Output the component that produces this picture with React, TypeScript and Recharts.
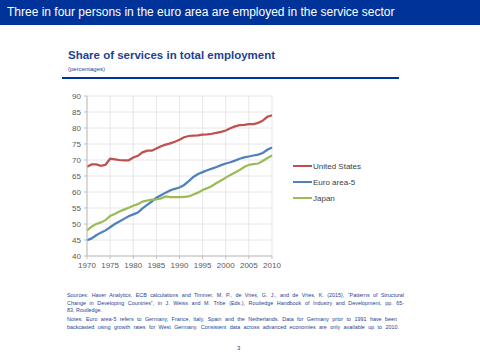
import { CartesianGrid, Line, LineChart, XAxis, YAxis } from "recharts";

const years = [
  1970, 1971, 1972, 1973, 1974, 1975, 1976, 1977, 1978, 1979,
  1980, 1981, 1982, 1983, 1984, 1985, 1986, 1987, 1988, 1989,
  1990, 1991, 1992, 1993, 1994, 1995, 1996, 1997, 1998, 1999,
  2000, 2001, 2002, 2003, 2004, 2005, 2006, 2007, 2008, 2009, 2010,
];

const unitedStates = [
  67.9, 68.6, 68.6, 68.2, 68.5, 70.4, 70.2, 70.0, 69.9, 69.9,
  70.8, 71.3, 72.4, 72.9, 72.9, 73.6, 74.3, 74.8, 75.2, 75.7,
  76.3, 77.1, 77.5, 77.6, 77.7, 77.9, 78.0, 78.2, 78.5, 78.8,
  79.2, 79.9, 80.5, 80.9, 81.0, 81.2, 81.2, 81.6, 82.3, 83.5, 84.0,
];

const euroArea5 = [
  44.9, 45.5, 46.5, 47.3, 48.0, 49.0, 50.0, 50.8, 51.6, 52.4,
  53.0, 53.6, 54.9, 56.0, 57.0, 58.2, 59.0, 59.8, 60.5, 61.0,
  61.4, 62.2, 63.4, 64.7, 65.6, 66.2, 66.8, 67.3, 67.8, 68.4,
  68.9, 69.3, 69.8, 70.4, 70.8, 71.1, 71.4, 71.7, 72.2, 73.2, 73.9,
];

const japan = [
  48.0, 49.2, 50.0, 50.5, 51.2, 52.5, 53.1, 53.9, 54.5, 55.1,
  55.7, 56.2, 57.0, 57.3, 57.6, 57.7, 58.0, 58.6, 58.4, 58.4,
  58.4, 58.5, 58.6, 59.2, 59.8, 60.6, 61.2, 61.9, 62.8, 63.6,
  64.5, 65.3, 66.1, 66.9, 67.8, 68.5, 68.7, 68.9, 69.7, 70.6, 71.4,
];

const xTicks = [1970, 1975, 1980, 1985, 1990, 1995, 2000, 2005, 2010];
const yTicks = [40, 45, 50, 55, 60, 65, 70, 75, 80, 85, 90];

const series = [
  { key: "us", name: "United States", color: "#c0504d" },
  { key: "euro", name: "Euro area-5", color: "#4f81bd" },
  { key: "japan", name: "Japan", color: "#9bbb59" },
];

const data = years.map((year, i) => ({
  year,
  us: unitedStates[i],
  euro: euroArea5[i],
  japan: japan[i],
}));

const blue = "#1f3f94";
const axisFont = { fontSize: 8, fill: "#595959", fontFamily: "Liberation Sans, Arial, sans-serif" };

const footLine = (text: string, top: number, justify: boolean, width = 337) => (
  <div
    style={{
      position: "absolute",
      left: 67,
      top,
      width,
      fontSize: 5.4,
      lineHeight: "7px",
      color: blue,
      whiteSpace: "nowrap",
      textAlign: "justify",
      textAlignLast: justify ? "justify" : "left",
      overflow: "hidden",
    }}
  >
    {text}
  </div>
);

export default function App() {
  return (
    <div
      style={{
        position: "absolute",
        left: 0,
        top: 0,
        width: 480,
        height: 360,
        background: "#fff",
        fontFamily: "Liberation Sans, Arial, sans-serif",
        overflow: "hidden",
      }}
    >
      <div
        style={{
          position: "absolute",
          left: 0,
          top: 0,
          width: 480,
          height: 25,
          background: "#003399",
          color: "#fff",
          fontSize: 12,
          lineHeight: "25px",
          paddingLeft: 7,
          boxSizing: "border-box",
        }}
      >
        Three in four persons in the euro area are employed in the service sector
      </div>

      <div style={{ position: "absolute", left: 68, top: 49, fontSize: 11.5, fontWeight: "bold", color: blue }}>
        Share of services in total employment
      </div>
      <div style={{ position: "absolute", left: 68, top: 66, fontSize: 6, color: blue }}>(percentages)</div>
      <div style={{ position: "absolute", left: 62, top: 77, width: 337, height: 1.5, background: "#003399" }} />

      <div style={{ position: "absolute", left: 0, top: 0 }}>
        <LineChart width={480} height={360} data={data} margin={{ top: 96, right: 208, bottom: 84, left: 57 }}>
          <CartesianGrid stroke="#e6e6e6" strokeWidth={1} />
          <XAxis
            dataKey="year"
            type="number"
            domain={[1970, 2010]}
            ticks={xTicks}
            height={20}
            tick={axisFont}
            tickSize={3}
            tickMargin={3}
            stroke="#bfbfbf"
            interval={0}
          />
          <YAxis
            domain={[40, 90]}
            ticks={yTicks}
            width={30}
            tick={axisFont}
            tickSize={3}
            tickMargin={3}
            stroke="#bfbfbf"
            interval={0}
          />
          {series.map((s) => (
            <Line
              key={s.key}
              dataKey={s.key}
              name={s.name}
              stroke={s.color}
              strokeWidth={2.25}
              dot={false}
              type="linear"
              isAnimationActive={false}
            />
          ))}
        </LineChart>
      </div>

      {series.map((s, i) => (
        <div key={s.key} style={{ position: "absolute", left: 293, top: 161 + i * 16, height: 10, display: "flex", alignItems: "center" }}>
          <div style={{ width: 19, height: 2.25, background: s.color }} />
          <span style={{ fontSize: 8, color: "#404040", marginLeft: 1 }}>{s.name}</span>
        </div>
      ))}

      {footLine(
        "Sources: Haver Analytics, ECB calculations and Timmer, M. P., de Vries, G. J., and de Vries, K. (2015), \u201cPatterns of Structural",
        292,
        true,
      )}
      {footLine(
        "Change in Developing Countries\u201d, in J. Weiss and M. Tribe (Eds.), Routledge Handbook of Industry and Development, pp. 65-",
        299.5,
        true,
      )}
      {footLine("83, Routledge.", 306.5, false)}
      {footLine(
        "Notes: Euro area-5 refers to Germany, France, Italy, Spain and the Netherlands. Data for Germany prior to 1991 have been",
        316,
        true,
        330,
      )}
      {footLine(
        "backcasted using growth rates for West Germany. Consistent data across advanced economies are only available up to 2010.",
        323.5,
        true,
        332,
      )}
      <div style={{ position: "absolute", left: 237, top: 345, fontSize: 6, color: blue }}>3</div>
    </div>
  );
}
